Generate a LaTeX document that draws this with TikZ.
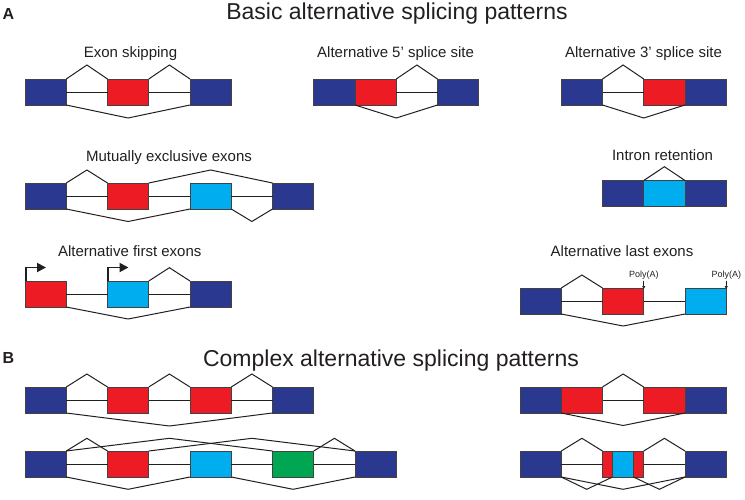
\documentclass[tikz,border=0pt]{standalone}
\usepackage{fontspec}
\setmainfont{Liberation Sans}
\usetikzlibrary{arrows.meta}
\definecolor{navy}{RGB}{43,56,143}
\definecolor{exred}{RGB}{237,28,36}
\definecolor{excyan}{RGB}{0,174,239}
\definecolor{exgreen}{RGB}{0,166,81}
\definecolor{ink}{RGB}{35,31,32}
\tikzset{
  exon/.style={draw=ink!85, line width=0.7pt, inner sep=0pt, outer sep=0pt,
    minimum width=41.25pt, minimum height=26pt, anchor=north west},
  nb/.style={exon, fill=navy},
  nr/.style={exon, fill=exred},
  nc/.style={exon, fill=excyan},
  ng/.style={exon, fill=exgreen},
  intron/.style={draw=ink, line width=1pt, line join=miter},
  subtitle/.style={font=\fontsize{15}{18}\selectfont, anchor=base, text=ink, inner sep=0pt},
  maintitle/.style={font=\fontsize{23}{27}\selectfont, anchor=base, text=ink, inner sep=0pt},
  panel/.style={font=\fontsize{16}{19}\selectfont\bfseries, anchor=base west, text=ink, inner sep=0pt},
  polya/.style={font=\fontsize{9}{11}\selectfont, anchor=base, text=ink, inner sep=0pt},
  tss/.style={draw=ink, line width=1.9pt, -{Triangle[length=9pt,width=9pt]}},
  paarrow/.style={draw=ink, line width=0.6pt, -{Triangle[length=3pt,width=3pt]}}
}
\begin{document}
\begin{tikzpicture}[x=1pt,y=-1pt]
\useasboundingbox (0,0) rectangle (745,499);

% titles
\node[panel] (pa) at (2.5,19.5) {A};
\node[maintitle] (ta) at (397,19.5) {Basic alternative splicing patterns};
\node[panel] (pb) at (2.5,363.5) {B};
\node[maintitle] (tb) at (391,366) {Complex alternative splicing patterns};

% ---------- Exon skipping ----------
\node[subtitle] (l1) at (130.5,57.3) {Exon skipping};
\node[nb] (es1) at (25,79) {};
\node[nr] (es2) at (107.5,79) {};
\node[nb] (es3) at (190,79) {};
\draw[intron] (es1.east) -- (es2.west) (es2.east) -- (es3.west);
\draw[intron] (es1.north east) -- (86.9,65) -- (es2.north west);
\draw[intron] (es2.north east) -- (169.4,65) -- (es3.north west);
\draw[intron] (es1.south east) -- (128.1,118) -- (es3.south west);

% ---------- Alternative 5' ----------
\node[subtitle] (l2) at (395.6,57.3) {Alternative 5’ splice site};
\node[nb] (f1) at (313.75,79) {};
\node[nr] (f2) at (355,79) {};
\node[nb] (f3) at (437.5,79) {};
\draw[intron] (f2.east) -- (f3.west);
\draw[intron] (f2.north east) -- (416.9,65) -- (f3.north west);
\draw[intron] (f1.south east) -- (396.25,118) -- (f3.south west);

% ---------- Alternative 3' ----------
\node[subtitle] (l3) at (643.5,57.3) {Alternative 3’ splice site};
\node[nb] (t1) at (561.25,79) {};
\node[nr] (t2) at (643.75,79) {};
\node[nb] (t3) at (685,79) {};
\draw[intron] (t1.east) -- (t2.west);
\draw[intron] (t1.north east) -- (623.1,65) -- (t2.north west);
\draw[intron] (t1.south east) -- (643.75,118) -- (t2.south east);

% ---------- Mutually exclusive ----------
\node[subtitle] (l4) at (169,161.5) {Mutually exclusive exons};
\node[nb] (m1) at (25,183) {};
\node[nr] (m2) at (107.5,183) {};
\node[nc] (m3) at (190,183) {};
\node[nb] (m4) at (272.5,183) {};
\draw[intron] (m1.east) -- (m2.west) (m2.east) -- (m3.west) (m3.east) -- (m4.west);
\draw[intron] (m1.north east) -- (86.9,170) -- (m2.north west);
\draw[intron] (m2.north east) -- (210.6,170) -- (m4.north west);
\draw[intron] (m1.south east) -- (128.1,221.5) -- (m3.south west);
\draw[intron] (m3.south east) -- (251.9,221.5) -- (m4.south west);

% ---------- Intron retention ----------
\node[subtitle] (l5) at (662.5,160.7) {Intron retention};
\node[nb] (r1) at (602.5,180.5) {};
\node[nc] (r2) at (643.75,180.5) {};
\node[nb] (r3) at (685,180.5) {};
\draw[intron] (r1.north east) -- (664.4,166.7) -- (r3.north west);

% ---------- Alternative first exons ----------
\node[subtitle] (l6) at (129.7,256.7) {Alternative first exons};
\node[nr] (a1) at (25,281) {};
\node[nc] (a2) at (107.5,281) {};
\node[nb] (a3) at (190,281) {};
\coordinate (tss1) at (46,267.5);
\coordinate (tss2) at (128.5,267.5);
\draw[intron] (a1.east) -- (a2.west) (a2.east) -- (a3.west);
\draw[intron] (a2.north east) -- (169.4,267.7) -- (a3.north west);
\draw[intron] (a1.south east) -- (128.1,319) -- (a3.south west);
\draw[tss] ([xshift=0.9pt]a1.north west) |- (tss1);
\draw[tss] ([xshift=0.9pt]a2.north west) |- (tss2);

% ---------- Alternative last exons ----------
\node[subtitle] (l7) at (622,256.7) {Alternative last exons};
\node[nb] (z1) at (520,288) {};
\node[nr] (z2) at (602.5,288) {};
\node[nc] (z3) at (685,288) {};
\draw[intron] (z1.east) -- (z2.west) (z2.east) -- (z3.west);
\draw[intron] (z1.north east) -- (581.9,275) -- (z2.north west);
\draw[intron] (z1.south east) -- (623.1,326) -- (z3.south west);
\node[polya] (p1) at (643.75,277) {Poly(A)};
\node[polya] (p2) at (726.25,277) {Poly(A)};
\draw[paarrow] ([yshift=-1.5pt]p1.south) -- ([yshift=-1pt]z2.north east);
\draw[paarrow] ([yshift=-1.5pt]p2.south) -- ([yshift=-1pt]z3.north east);

% ---------- B row 1 left ----------
\node[nb] (b1) at (25,387) {};
\node[nr] (b2) at (107.5,387) {};
\node[nr] (b3) at (190,387) {};
\node[nb] (b4) at (272.5,387) {};
\draw[intron] (b1.east) -- (b2.west) (b2.east) -- (b3.west) (b3.east) -- (b4.west);
\draw[intron] (b1.north east) -- (86.9,374) -- (b2.north west);
\draw[intron] (b2.north east) -- (169.4,374) -- (b3.north west);
\draw[intron] (b3.north east) -- (251.9,374) -- (b4.north west);
\draw[intron] (b1.south east) -- (169.4,426) -- (b4.south west);

% ---------- B row 1 right ----------
\node[nb] (c1) at (520,387) {};
\node[nr] (c2) at (561.25,387) {};
\node[nr] (c3) at (643.75,387) {};
\node[nb] (c4) at (685,387) {};
\draw[intron] (c2.east) -- (c3.west);
\draw[intron] (c2.north east) -- (623.1,374) -- (c3.north west);
\draw[intron] (c1.south east) -- (623.1,425.5) -- (c4.south west);

% ---------- B row 2 left ----------
\node[nb] (d1) at (25,451) {};
\node[nr] (d2) at (107.5,451) {};
\node[nc] (d3) at (190,451) {};
\node[ng] (d4) at (272.5,451) {};
\node[nb] (d5) at (355,451) {};
\draw[intron] (d1.east) -- (d2.west) (d2.east) -- (d3.west) (d3.east) -- (d4.west) (d4.east) -- (d5.west);
\draw[intron] (d1.north east) -- (86.9,438.3) -- (d2.north west);
\draw[intron] (d4.north east) -- (334.4,438.3) -- (d5.north west);
\draw[intron] (d1.north east) -- (169.4,438.3) -- (d4.north west);
\draw[intron] (d2.north east) -- (251.9,438.3) -- (d5.north west);
\draw[intron] (d1.south east) -- (128.1,489.3) -- (d3.south west);
\draw[intron] (d3.south east) -- (293.1,489.3) -- (d5.south west);

% ---------- B row 2 right ----------
\node[nb] (e1) at (520,451) {};
\node[nr, minimum width=10pt] (e2) at (602.5,451) {};
\node[nc, minimum width=21pt] (e3) at (612.5,451) {};
\node[nr, minimum width=10.25pt] (e4) at (633.5,451) {};
\node[nb] (e5) at (685,451) {};
\draw[intron] (e1.east) -- (e2.west) (e4.east) -- (e5.west);
\draw[intron] (e1.north east) -- (581.9,438.3) -- (e2.north west);
\draw[intron] (e4.north east) -- (664.4,438.3) -- (e5.north west);
\draw[intron] (e1.south east) -- (586.7,489.3) -- (e3.south west);
\draw[intron] (e1.south east) -- (623.1,489.3) -- (e5.south west);
\draw[intron] (e3.south east) -- (659.4,489.3) -- (e5.south west);
\end{tikzpicture}
\end{document}
